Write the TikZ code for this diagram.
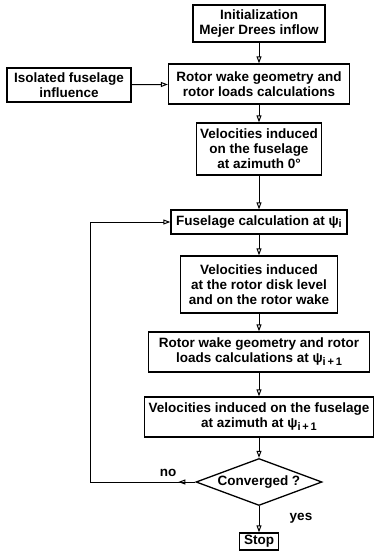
\documentclass[tikz,border=0pt]{standalone}
\usepackage{fontspec}
\setmainfont{Liberation Sans}
\usetikzlibrary{arrows.meta,shapes.geometric,decorations.markings}
\newcommand{\psisub}[1]{ψ\raisebox{-2.5pt}{\fontsize{11}{11}\selectfont #1}}
\begin{document}
\begin{tikzpicture}[x=1pt,y=-1pt,
    box/.style={draw,line width=1.3pt,align=center,inner sep=2pt,
      font=\bfseries\fontsize{13.5}{15}\selectfont},
    lbl/.style={font=\bfseries\fontsize{13.5}{15}\selectfont},
    flow/.style={line width=1pt,-{Triangle[open,length=7pt,width=5pt]}}]
  \useasboundingbox (0,0) rectangle (380,554);
  \node (init) at (259,23.5) [box,minimum width=132pt,minimum height=37pt]
    {Initialization\\Mejer Drees inflow};
  \node (rwg) at (259,84) [box,minimum width=181pt,minimum height=40pt]
    {Rotor wake geometry and\\rotor loads calculations};
  \node (iso) at (69,85) [box,minimum width=124pt,minimum height=34pt]
    {Isolated fuselage\\influence};
  \node (vel) at (259,149) [box,minimum width=125pt,minimum height=52pt]
    {Velocities induced\\on the fuselage\\at azimuth 0°};
  \node (fus) at (259,222) [box,minimum width=176pt,minimum height=24pt]
    {Fuselage calculation at \psisub{i}};
  \node (disk) at (259,284.5) [box,minimum width=157pt,minimum height=57pt]
    {Velocities induced\\at the rotor disk level\\and on the rotor wake};
  \node (rwgi) at (259,352) [box,minimum width=221pt,minimum height=40pt]
    {Rotor wake geometry and rotor\\loads calculations at \psisub{i\,+\,1}};
  \node (velf) at (259,417) [box,minimum width=229pt,minimum height=40pt]
    {Velocities induced on the fuselage\\at azimuth at \psisub{i\,+\,1}};
  \node (conv) at (259,482) [box,diamond,aspect=2.7,inner sep=1pt,
    minimum width=126pt,minimum height=47pt] {Converged ?};
  \node (stop) at (259,541.5) [box,minimum width=39pt,minimum height=17pt] {Stop};
  \node (no) at (168,473) [lbl] {no};
  \node (yes) at (301,518) [lbl] {yes};
  \coordinate (lp) at (90,482);
  \draw[flow] (init) -- (rwg); \draw[flow] (iso) -- (rwg);
  \draw[flow] (rwg) -- (vel); \draw[flow] (vel) -- (fus);
  \draw[flow] (fus) -- (disk); \draw[flow] (disk) -- (rwgi);
  \draw[flow] (rwgi) -- (velf); \draw[flow] (velf) -- (conv);
  \draw[flow] (conv) -- (stop);
  \draw[flow,postaction={decorate},decoration={markings,
    mark=at position 17pt with {\arrow{Triangle[open,length=7pt,width=5pt]}}}]
    (conv.west) -- (lp) |- (fus.west);
\end{tikzpicture}
\end{document}
